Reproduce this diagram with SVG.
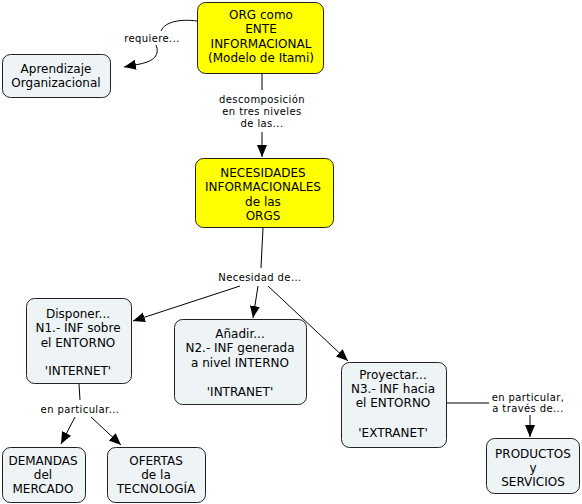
<svg xmlns="http://www.w3.org/2000/svg" width="582" height="504" viewBox="0 0 582 504">
<style>
.n{fill:#eef3f6;stroke:#222;stroke-width:1}
.y{fill:#ffff00;stroke:#222;stroke-width:1}
.t{font-family:"DejaVu Sans",Verdana,sans-serif;font-size:12px;text-anchor:middle;fill:#000}
.l{font-family:"DejaVu Sans",Verdana,sans-serif;font-size:10px;letter-spacing:0.4px;text-anchor:middle;fill:#000}
.c{fill:none;stroke:#000;stroke-width:1}
</style>
<defs>
<marker id="ah" markerUnits="userSpaceOnUse" markerWidth="13" markerHeight="11" refX="12" refY="5" orient="auto">
<path d="M0,0 L12,5 L0,10 z" fill="#000"/>
</marker>
</defs>
<rect width="582" height="504" fill="#fff"/>
<g id="connectors">
<path class="c" d="M197,21 C182,19 165,21 161,31"/>
<path class="c" d="M156,45 C160,55 154,61 140,64 L124,67" marker-end="url(#ah)"/>
<path class="c" d="M262,74 L262,90"/>
<path class="c" d="M262,132 L262,157" marker-end="url(#ah)"/>
<path class="c" d="M263,228 L261,268"/>
<path class="c" d="M240,286 L133,321" marker-end="url(#ah)"/>
<path class="c" d="M258,286 L253,318" marker-end="url(#ah)"/>
<path class="c" d="M268,286 L348,361" marker-end="url(#ah)"/>
<path class="c" d="M79,384 L80,400"/>
<path class="c" d="M75,417 L61,444" marker-end="url(#ah)"/>
<path class="c" d="M91,417 L121,445" marker-end="url(#ah)"/>
<path class="c" d="M447,403 L489,403"/>
<path class="c" d="M530,415 L530,437" marker-end="url(#ah)"/>
<text class="l" x="152" y="41.5">requiere...</text>
<text class="l" x="262" y="102.5">descomposición</text>
<text class="l" x="262" y="114.5">en tres niveles</text>
<text class="l" x="262" y="126.5">de las...</text>
<text class="l" x="260" y="280.5">Necesidad de...</text>
<text class="l" x="80" y="412.5">en particular...</text>
<text class="l" x="528" y="400.5">en particular,</text>
<text class="l" x="528" y="411.5">a través de...</text>
</g>
<g id="org">
<rect class="y" x="197.5" y="2.5" width="126" height="71" rx="8"/>
<text class="t" x="261" y="18.5">ORG como</text>
<text class="t" x="261" y="33">ENTE</text>
<text class="t" x="261" y="47.5">INFORMACIONAL</text>
<text class="t" x="261" y="62">(Modelo de Itami)</text>
</g>
<g id="aprendizaje">
<rect class="n" x="2.5" y="54.5" width="108" height="43" rx="8"/>
<text class="t" x="56" y="72.5">Aprendizaje</text>
<text class="t" x="56" y="86.5">Organizacional</text>
</g>
<g id="necesidades">
<rect class="y" x="195.5" y="158.5" width="138" height="69" rx="8"/>
<text class="t" x="263" y="176.5">NECESIDADES</text>
<text class="t" x="263" y="191">INFORMACIONALES</text>
<text class="t" x="263" y="205.5">de las</text>
<text class="t" x="263" y="220">ORGS</text>
</g>
<g id="disponer">
<rect class="n" x="26.5" y="298.5" width="105" height="85" rx="8"/>
<text class="t" x="78" y="317.5">Disponer...</text>
<text class="t" x="78" y="332">N1.- INF sobre</text>
<text class="t" x="78" y="346.5">el ENTORNO</text>
<text class="t" x="78" y="375">'INTERNET'</text>
</g>
<g id="anadir">
<rect class="n" x="174.5" y="319.5" width="132" height="85" rx="8"/>
<text class="t" x="240" y="337.5">Añadir...</text>
<text class="t" x="240" y="352">N2.- INF generada</text>
<text class="t" x="240" y="366.5">a nivel INTERNO</text>
<text class="t" x="240" y="395.5">'INTRANET'</text>
</g>
<g id="proyectar">
<rect class="n" x="341.5" y="362.5" width="105" height="85" rx="8"/>
<text class="t" x="393" y="378.5">Proyectar...</text>
<text class="t" x="393" y="393">N3.- INF hacia</text>
<text class="t" x="393" y="407">el ENTORNO</text>
<text class="t" x="393" y="436.5">'EXTRANET'</text>
</g>
<g id="demandas">
<rect class="n" x="2.5" y="447.5" width="83" height="55" rx="8"/>
<text class="t" x="43" y="464.5">DEMANDAS</text>
<text class="t" x="43" y="478.5">del</text>
<text class="t" x="43" y="492.5">MERCADO</text>
</g>
<g id="ofertas">
<rect class="n" x="107.5" y="447.5" width="98" height="55" rx="8"/>
<text class="t" x="156" y="464.5">OFERTAS</text>
<text class="t" x="156" y="478.5">de la</text>
<text class="t" x="156" y="492.5">TECNOLOGÍA</text>
</g>
<g id="productos">
<rect class="n" x="486.5" y="438.5" width="93" height="55" rx="8"/>
<text class="t" x="533" y="457.5">PRODUCTOS</text>
<text class="t" x="533" y="471.5">y</text>
<text class="t" x="533" y="485.5">SERVICIOS</text>
</g>
</svg>
